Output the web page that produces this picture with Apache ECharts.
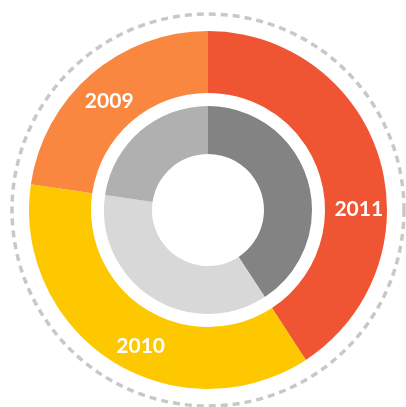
<!DOCTYPE html>
<html>
<head>
<meta charset="utf-8">
<script src="https://cdn.jsdelivr.net/npm/echarts@6/dist/echarts.min.js"></script>
<style>
    html, body {margin: 0; padding: 0; background: #fff;}
    #chart {width: 406px; height: 407px;}
</style>
</head>
<body>
<div id="chart"></div>
<script>
// outer ring: years, inner ring uses the same shares
const years = ['2011', '2010', '2009'];
const outerValues = [40.8, 36.5, 22.7];
const innerValues = [40.8, 36.5, 22.7];

const outerColors = ['#EF5532', '#FDC800', '#F98740'];
const innerColors = ['#838383', '#D8D8D8', '#AFB0AF'];
// labels are not centred on the slices in the original
const labelOffsets = [[6, 42], [14, 9], [0, 5]];

const chart = echarts.init(document.getElementById('chart'));

chart.setOption({
    animation: false,
    graphic: [{
        type: 'circle',
        shape: {cx: 208, cy: 210, r: 196},
        style: {fill: 'none', stroke: '#c8c8c8', lineWidth: 3.5, lineDash: [7, 5]},
        silent: true
    }],
    series: [
        {
            type: 'pie',
            center: [208, 210],
            radius: [117, 179],
            startAngle: 90,
            clockwise: true,
            emphasis: {disabled: true},
            label: {
                show: true,
                position: 'inside',
                color: '#fff',
                fontFamily: 'Lato',
                fontWeight: 'bold',
                fontSize: 21,
                formatter: '{b}'
            },
            labelLine: {show: false},
            data: years.map((name, i) => ({
                name: name,
                value: outerValues[i],
                itemStyle: {color: outerColors[i]},
                label: {offset: labelOffsets[i]}
            }))
        },
        {
            type: 'pie',
            center: [208, 210],
            radius: [56, 104],
            startAngle: 90,
            clockwise: true,
            emphasis: {disabled: true},
            label: {show: false},
            labelLine: {show: false},
            data: years.map((name, i) => ({
                name: name,
                value: innerValues[i],
                itemStyle: {color: innerColors[i]}
            }))
        }
    ]
});
</script>
</body>
</html>
